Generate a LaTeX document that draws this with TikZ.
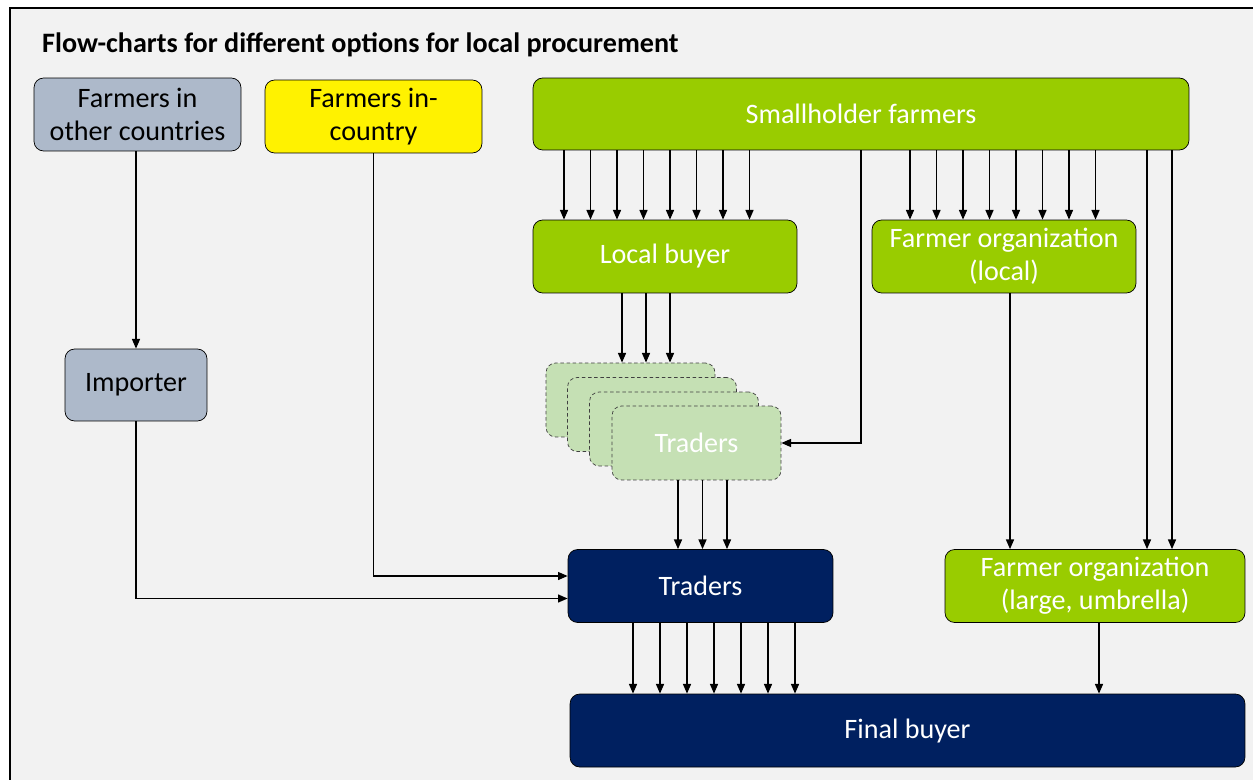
\documentclass[tikz,border=0pt]{standalone}
\usepackage{fontspec}
\setmainfont{Carlito}
\usepackage{tikz}
\usetikzlibrary{positioning, arrows.meta}

\definecolor{panelGray}{HTML}{F2F2F2}
\definecolor{farmGreen}{HTML}{99CC00}
\definecolor{traderGreen}{HTML}{C5E0B4}
\definecolor{abroadBlue}{HTML}{ADB9CA}
\definecolor{darkNavy}{HTML}{002060}

\begin{document}
\begin{tikzpicture}[x=0.02cm, y=-0.02cm, every node/.style={align=center, font=\fontsize{16}{19}\selectfont},
  box/.style={draw, rounded corners=5.5pt, inner sep=0pt, minimum height=1.46cm},
  stackbox/.style={box, draw=black!75, dash pattern=on 2pt off 1.5pt, fill=traderGreen, minimum width=3.38cm, minimum height=1.48cm},
  arr/.style={-{Triangle[length=5.5pt, width=4.5pt]}, line width=0.9pt}]
  % Canvas
  \fill[white] (0,0) rectangle (1253,780);
  \useasboundingbox (0,0) rectangle (1253,780);
  \draw[thick, fill=panelGray] (10,8) rectangle (1270,800);
  \node[anchor=west, font=\bfseries\fontsize{16}{19}\selectfont] (title) at (36,45) {Flow-charts for different options for local procurement};

  % Sources
  \node[box, fill=abroadBlue, minimum width=4.14cm] (FOC) at (137.5,114.5) {Farmers in\\other countries};
  \node[box, fill=yellow, minimum width=4.34cm] (FIC) at (373.5,116.5) {Farmers in-\\country};
  \node[box, fill=farmGreen, text=white, minimum width=13.12cm, minimum height=1.44cm] (SH) at (861,114) {Smallholder farmers};

  % Middle layer
  \node[box, fill=farmGreen, text=white, minimum width=5.28cm] (LB) at (665,256.5) {Local buyer};
  \node[box, fill=farmGreen, text=white, minimum width=5.28cm] (FOLoc) at (1004,256.5) {Farmer organization\\(local)};
  \node[box, fill=abroadBlue, minimum width=2.84cm, minimum height=1.44cm] (IMP) at (136,385) {Importer};

  % Stack of small traders
  \node[stackbox] (T1) at (630.5,400) {};
  \node[stackbox] (T2) at (652,414.5) {};
  \node[stackbox] (T3) at (674,429) {};
  \node[stackbox, text=white] (T4) at (696.5,443) {Traders};

  % Buyers
  \node[box, fill=darkNavy, text=white, minimum width=5.3cm] (TR) at (700.5,586) {Traders};
  \node[box, fill=farmGreen, text=white, minimum width=6cm] (FOLg) at (1095,586) {Farmer organization\\(large, umbrella)};
  \node[box, fill=darkNavy, text=white, minimum width=13.5cm] (FB) at (907.5,730.5) {Final buyer};

  % Arrows
  \foreach \x in {564,590.5,...,750} \draw[arr] (\x,0 |- SH.south) -- (\x,0 |- LB.north);
  \foreach \x in {910,936.5,...,1097} \draw[arr] (\x,0 |- SH.south) -- (\x,0 |- FOLoc.north);
  \foreach \x in {1147,1172} \draw[arr] (\x,0 |- SH.south) -- (\x,0 |- FOLg.north);
  \draw[arr] (SH.south) |- (T4.east);
  \foreach \x in {622,646,670} \draw[arr] (\x,0 |- LB.south) -- (\x,0 |- T1.north);
  \foreach \x in {678,702.5,727} \draw[arr] (\x,0 |- T4.south) -- (\x,0 |- TR.north);
  \draw[arr] (1010,0 |- FOLoc.south) -- (1010,0 |- FOLg.north);
  \draw[arr] (IMP.north |- FOC.south) -- (IMP.north);
  \draw[arr] (IMP.south) |- ([yshift=-0.25cm]TR.west);
  \draw[arr] (FIC.south) |- ([yshift=0.2cm]TR.west);
  \foreach \x in {633,660,...,795} \draw[arr] (\x,0 |- TR.south) -- (\x,0 |- FB.north);
  \draw[arr] (1099,0 |- FOLg.south) -- (1099,0 |- FB.north);
\end{tikzpicture}
\end{document}
